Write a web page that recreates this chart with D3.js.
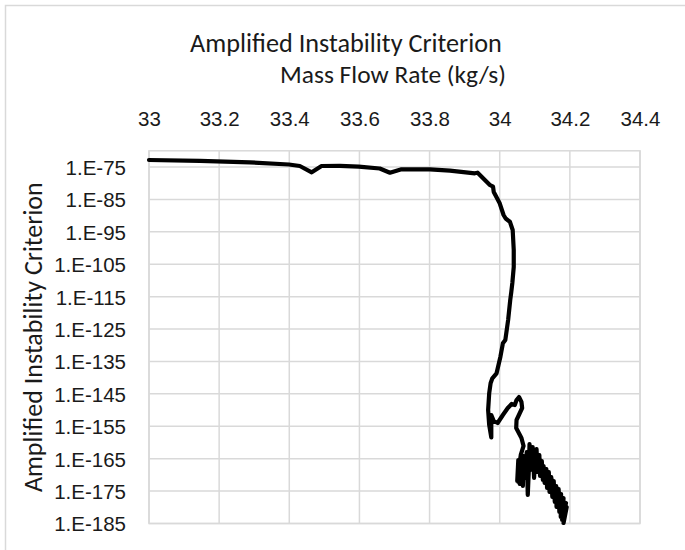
<!DOCTYPE html>
<html>
<head>
<meta charset="utf-8">
<script src="https://cdn.jsdelivr.net/npm/d3@7"></script>
<style>
  html, body { margin: 0; padding: 0; background: #fff; }
  svg { display: block; font-family: Carlito, Calibri, Lato, "Noto Sans", sans-serif; }
</style>
</head>
<body>
<svg id="chart" width="685" height="550"></svg>
<script>
// Mass flow rate (kg/s) along the traced operating path
const massFlow = [
  33.000, 33.145, 33.288, 33.399, 33.430, 33.464, 33.492, 33.544, 33.598, 33.658,
  33.687, 33.720, 33.801, 33.858, 33.929, 33.937,
  33.972, 33.981, 33.983, 34.000, 34.011, 34.017, 34.029, 34.037, 34.040, 34.040,
  34.036, 34.033, 34.030, 34.024, 34.016, 34.009, 34.002, 33.991, 33.979, 33.974,
  33.970, 33.967, 33.970, 33.976,
  33.976, 33.983, 33.994, 34.009, 34.023, 34.034, 34.043, 34.048, 34.055, 34.062,
  34.064, 34.056, 34.048, 34.047, 34.056,
  34.062, 34.068, 34.060, 34.054, 34.053, 34.056, 34.050, 34.053, 34.057, 34.063,
  34.066, 34.068, 34.073, 34.077, 34.080, 34.083, 34.085, 34.088, 34.093, 34.094,
  34.098, 34.101, 34.105,
  34.108, 34.113, 34.115, 34.120, 34.123, 34.125, 34.128, 34.133, 34.135, 34.140,
  34.142, 34.147, 34.150, 34.154, 34.157, 34.161, 34.162, 34.168, 34.170, 34.175,
  34.174, 34.182, 34.178, 34.189, 34.180, 34.191, 34.182
];

// Amplified instability criterion, as base-10 exponent (value = 10^exp)
const criterionLog10 = [
  -72.84, -73.09, -73.55, -74.23, -74.69, -76.63, -74.69, -74.63, -74.91, -75.46,
  -76.76, -75.71, -75.71, -76.14, -76.94, -76.76,
  -80.55, -81.08, -82.71, -86.20, -89.81, -90.89, -91.88, -94.44, -100.61, -105.85,
  -110.79, -113.57, -116.04, -122.21, -128.38, -129.40, -133.53, -138.65, -140.20, -141.74,
  -144.82, -149.98, -154.60, -158.46,
  -151.52, -153.37, -153.99, -151.52, -149.36, -148.12, -148.43, -146.89, -145.97, -147.51,
  -149.36, -151.21, -153.06, -155.53, -157.38,
  -158.61, -161.08, -163.86, -168.49, -172.19, -166.02, -171.88, -165.40, -172.81, -164.79,
  -173.43, -164.17, -170.96, -162.94, -176.20, -168.49, -160.47, -168.49, -163.86, -161.39,
  -170.96, -165.40, -162.01,
  -169.11, -163.86, -170.34, -165.71, -171.57, -167.25, -172.50, -168.18, -174.04, -169.11,
  -175.28, -170.65, -176.82, -171.88, -178.36, -173.43, -179.91, -174.35, -181.45, -175.89,
  -182.99, -177.13, -183.92, -178.67, -182.07, -179.91, -184.84
];

// Axis ticks
const xTicks = [33, 33.2, 33.4, 33.6, 33.8, 34, 34.2, 34.4];
const yTickExps = [-75, -85, -95, -105, -115, -125, -135, -145, -155, -165, -175, -185];
const yDomainExps = [-185, -70];

const titleText = "Amplified Instability Criterion";
const xTitleText = "Mass Flow Rate (kg/s)";
const yTitleText = "Amplified Instability Criterion";

const svg = d3.select("#chart");
const W = 685, H = 550;
const plot = { left: 149, right: 640, top: 150.8, bottom: 523.5 };
const gridColor = "#d9d9d9";
const textColor = "#1a1a1a";

const x = d3.scaleLinear().domain([33, 34.4]).range([plot.left, plot.right]);
const y = d3.scaleLog()
  .domain(yDomainExps.map(e => Math.pow(10, e)))
  .range([plot.bottom, plot.top]);

// Chart-area frame
svg.append("rect")
  .attr("x", 5.5).attr("y", 5.5)
  .attr("width", W).attr("height", H)
  .attr("fill", "none").attr("stroke", gridColor).attr("stroke-width", 1.5);

// Gridlines
const grid = svg.append("g").attr("stroke", gridColor).attr("stroke-width", 1.5);
grid.selectAll("line.v").data(xTicks).join("line")
  .attr("class", "v")
  .attr("x1", d => x(d)).attr("x2", d => x(d))
  .attr("y1", plot.top).attr("y2", plot.bottom);
grid.selectAll("line.h").data(yTickExps).join("line")
  .attr("class", "h")
  .attr("x1", plot.left).attr("x2", plot.right)
  .attr("y1", d => y(Math.pow(10, d))).attr("y2", d => y(Math.pow(10, d)));
svg.append("rect")
  .attr("x", plot.left).attr("y", plot.top)
  .attr("width", plot.right - plot.left).attr("height", plot.bottom - plot.top)
  .attr("fill", "none").attr("stroke", gridColor).attr("stroke-width", 1.5);

// Top x axis (labels only)
const xAxis = d3.axisTop(x).tickValues(xTicks).tickSize(0).tickPadding(0)
  .tickFormat(d => String(+d.toFixed(1)));
const gx = svg.append("g").attr("transform", `translate(0, 126)`).call(xAxis);
gx.select(".domain").remove();
gx.selectAll("text")
  .attr("fill", textColor).attr("font-size", 20.5).attr("dy", 0)
  .attr("font-family", null);

// Left y axis (labels only)
const yAxis = d3.axisLeft(y).tickValues(yTickExps.map(e => Math.pow(10, e)))
  .tickSize(0).tickPadding(0)
  .tickFormat(d => "1.E" + Math.round(Math.log10(d)));
const gy = svg.append("g").attr("transform", `translate(126, 0)`).call(yAxis);
gy.select(".domain").remove();
gy.selectAll("text")
  .attr("fill", textColor).attr("font-size", 20.5).attr("dy", "0.36em")
  .attr("font-family", null);

// Text helper: scale font size so the string spans the given width
function fitText(sel, targetWidth) {
  sel.attr("font-size", 20);
  const w = sel.node().getComputedTextLength();
  sel.attr("font-size", 20 * targetWidth / w);
  return sel;
}

// Chart title
fitText(svg.append("text")
  .attr("x", 346).attr("y", 52)
  .attr("text-anchor", "middle").attr("fill", textColor)
  .text(titleText), 312);

// X axis title
fitText(svg.append("text")
  .attr("x", 393).attr("y", 83)
  .attr("text-anchor", "middle").attr("fill", textColor)
  .text(xTitleText), 226);

// Y axis title
fitText(svg.append("text")
  .attr("transform", `translate(42, ${(plot.top + plot.bottom) / 2}) rotate(-90)`)
  .attr("text-anchor", "middle").attr("fill", textColor)
  .text(yTitleText), 310);

// Criterion trace
const points = massFlow.map((m, i) => [m, Math.pow(10, criterionLog10[i])]);
const line = d3.line().x(d => x(d[0])).y(d => y(d[1]));
svg.append("path")
  .datum(points)
  .attr("d", line)
  .attr("fill", "none")
  .attr("stroke", "#000")
  .attr("stroke-width", 4.2)
  .attr("stroke-linejoin", "round")
  .attr("stroke-linecap", "round");
</script>
</body>
</html>
